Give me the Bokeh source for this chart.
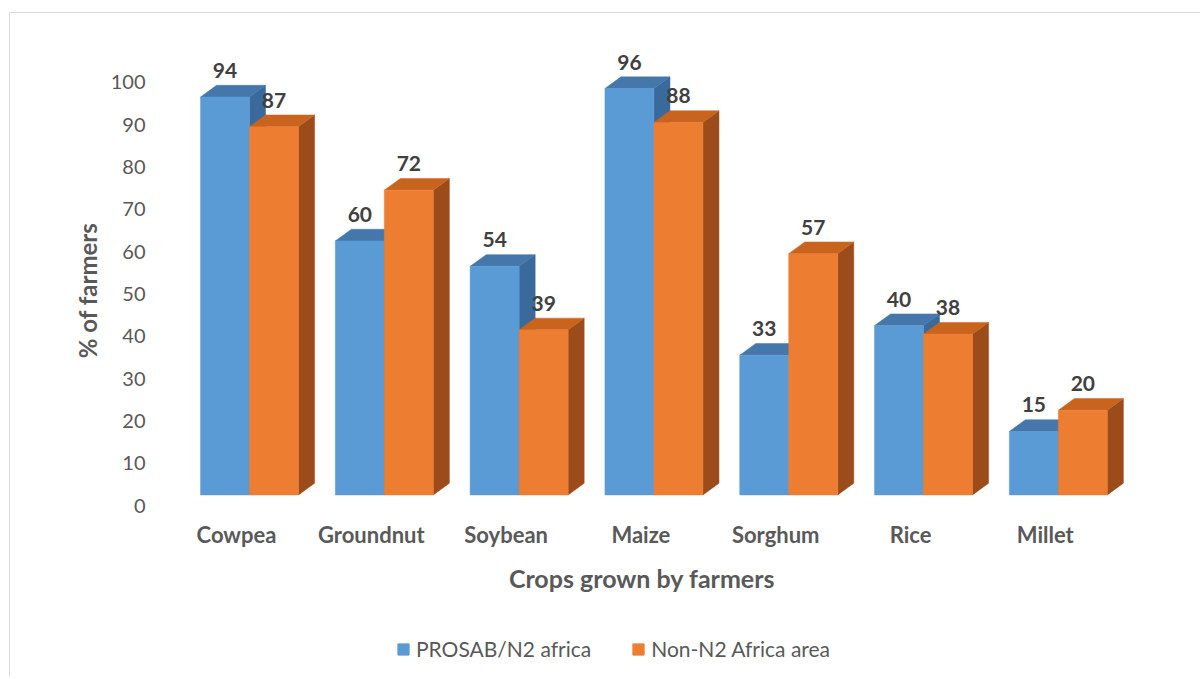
from bokeh.plotting import figure
from bokeh.layouts import column
from bokeh.models import ColumnDataSource, FixedTicker, Legend, LegendItem, Range1d
from bokeh.embed import file_html
from bokeh.resources import INLINE
from bokeh.core.properties import value

# ---- data ----
crops = ["Cowpea", "Groundnut", "Soybean", "Maize", "Sorghum", "Rice", "Millet"]
prosab = [94, 60, 54, 96, 33, 40, 15]
non_n2 = [87, 72, 39, 88, 57, 38, 20]
series_names = ["PROSAB/N2 africa", "Non-N2 Africa area"]
y_ticks = [0, 10, 20, 30, 40, 50, 60, 70, 80, 90, 100]
x_title = "Crops grown by farmers"
y_title = "% of farmers"

# ---- styling ----
FONT = "Lato"
W = 1190
H_MAIN, H_LEG = 587, 76
BAR_W = 0.3635          # width of one bar (category units)
GROUP_SHIFT = -0.267    # left edge of first bar relative to category
DX = 0.119              # 3D depth, x (category units)
DY = 2.76               # 3D depth, y (value units)
BASE = 2.5              # front-face lift (value units)
LABEL_GAP = 3.5         # label centre above back top edge (value units)

colors = [
    dict(front="#5B9BD5", top="#4577AB", side="#3A6A9C"),
    dict(front="#ED7D31", top="#C9641F", side="#9C4C1B"),
]

p = figure(width=W, height=H_MAIN,
           x_range=Range1d(-0.601, 6.617), y_range=Range1d(0, 109.85),
           output_backend="svg", toolbar_location=None, tools="",
           min_border_left=145, min_border_right=72,
           min_border_top=27, min_border_bottom=H_MAIN - 492)
p.outline_line_color = None
p.background_fill_color = "white"
p.border_fill_color = "white"
p.xgrid.visible = False
p.ygrid.visible = False

label_x, label_y, label_t = [], [], []
for s, vals in enumerate([prosab, non_n2]):
    c = colors[s]
    lefts = [i + GROUP_SHIFT + s * BAR_W for i in range(len(crops))]
    rights = [l + BAR_W for l in lefts]
    tops = [v + BASE for v in vals]
    bottoms = [BASE for _ in vals]
    side_xs = [[r, r + DX, r + DX, r] for r in rights]
    side_ys = [[b, b + DY, t + DY, t] for b, t in zip(bottoms, tops)]
    top_xs = [[l, r, r + DX, l + DX] for l, r in zip(lefts, rights)]
    top_ys = [[t, t, t + DY, t + DY] for t in tops]
    p.patches(side_xs, side_ys, fill_color=c["side"], line_color=c["side"], line_width=0.5)
    p.patches(top_xs, top_ys, fill_color=c["top"], line_color=c["top"], line_width=0.5)
    src = ColumnDataSource(dict(left=lefts, right=rights, top=tops, bottom=bottoms))
    p.quad(left="left", right="right", top="top", bottom="bottom", source=src,
           fill_color=c["front"], line_color=c["front"], line_width=0.5)
    for l, v, t in zip(lefts, vals, tops):
        label_x.append(l + BAR_W / 2)
        label_y.append(t + DY + LABEL_GAP)
        label_t.append(str(v))

p.text(x=label_x, y=label_y, text=label_t, text_align="center", text_baseline="middle",
       text_font=value(FONT), text_font_style="bold", text_font_size="21px",
       text_color="#404040")

# axes
p.yaxis.ticker = FixedTicker(ticks=y_ticks)
p.yaxis.axis_line_color = None
p.yaxis.major_tick_line_color = None
p.yaxis.minor_tick_line_color = None
p.yaxis.major_label_standoff = 4
p.yaxis.major_label_text_font = FONT
p.yaxis.major_label_text_font_size = "20px"
p.yaxis.major_label_text_color = "#595959"
p.yaxis.axis_label = y_title + "\u00a0" * 6
p.yaxis.axis_label_text_font = FONT
p.yaxis.axis_label_text_font_style = "bold"
p.yaxis.axis_label_text_font_size = "24px"
p.yaxis.axis_label_text_color = "#595959"
p.yaxis.axis_label_standoff = 6

p.xaxis.ticker = FixedTicker(ticks=list(range(len(crops))))
p.xaxis.major_label_overrides = {i: c for i, c in enumerate(crops)}
p.xaxis.axis_line_color = None
p.xaxis.major_tick_line_color = None
p.xaxis.minor_tick_line_color = None
p.xaxis.major_label_standoff = 9
p.xaxis.major_label_text_font = FONT
p.xaxis.major_label_text_font_style = "bold"
p.xaxis.major_label_text_font_size = "22px"
p.xaxis.major_label_text_color = "#595959"
p.xaxis.axis_label = x_title
p.xaxis.axis_label_text_font = FONT
p.xaxis.axis_label_text_font_style = "bold"
p.xaxis.axis_label_text_font_size = "25px"
p.xaxis.axis_label_text_color = "#595959"
p.xaxis.axis_label_standoff = 12

# ---- legend strip (frame aligned with main plot by the column layout) ----
p2 = figure(width=W, height=H_LEG, x_range=Range1d(0, 1), y_range=Range1d(0, 1),
            x_axis_type=None, y_axis_type=None, output_backend="svg",
            toolbar_location=None, tools="", min_border=0)
p2.outline_line_color = None
p2.xgrid.visible = False
p2.ygrid.visible = False
nan = float("nan")
leg_r = []
for c in colors:
    proxy = ColumnDataSource(dict(left=[nan], right=[nan], top=[nan], bottom=[nan]))
    leg_r.append(p2.quad(left="left", right="right", top="top", bottom="bottom", source=proxy,
                         fill_color=c["front"], line_color=c["front"]))
legend = Legend(items=[LegendItem(label=n, renderers=[r]) for n, r in zip(series_names, leg_r)],
                location=(241, 15), orientation="horizontal",
                glyph_width=14, glyph_height=14, label_standoff=6, spacing=40,
                padding=0, margin=0, border_line_color=None, background_fill_alpha=0,
                label_text_font=FONT, label_text_font_size="21px",
                label_text_color="#595959")
p2.add_layout(legend)

layout = column(p, p2, spacing=0)
layout.margin = (12, 0, 0, 9)
layout.styles = {"border-top": "1px solid #d9d9d9", "border-left": "1px solid #d9d9d9"}

open("out.html", "w").write(file_html(layout, INLINE))
